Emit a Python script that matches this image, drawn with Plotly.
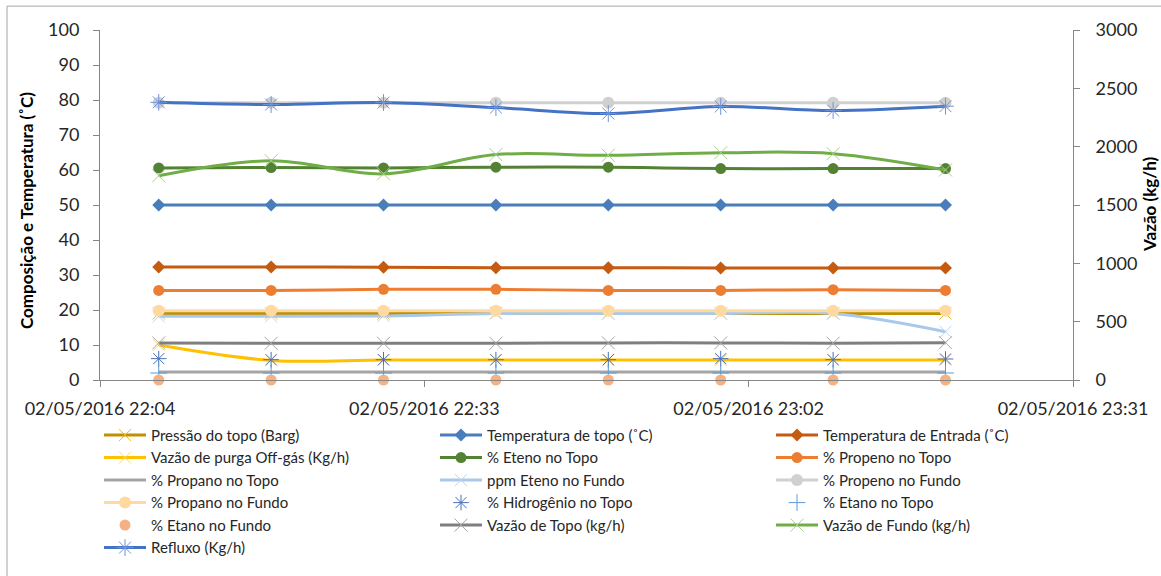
import plotly.graph_objects as go

# ---- data ----
times = ["2016-05-02 22:09:15", "2016-05-02 22:19:18", "2016-05-02 22:29:21",
         "2016-05-02 22:39:24", "2016-05-02 22:49:27", "2016-05-02 22:59:30",
         "2016-05-02 23:09:33", "2016-05-02 23:19:36"]
tick_times = ["2016-05-02 22:04", "2016-05-02 22:33", "2016-05-02 23:02", "2016-05-02 23:31"]
tick_labels = ["02/05/2016 22:04", "02/05/2016 22:33", "02/05/2016 23:02", "02/05/2016 23:31"]

pressao_topo = [19.0, 19.0, 19.0, 19.1, 19.0, 19.0, 19.0, 19.0]
temp_topo = [50.0, 50.0, 50.0, 50.0, 50.0, 50.0, 50.0, 50.0]
temp_entrada = [32.3, 32.3, 32.2, 32.1, 32.1, 32.0, 32.0, 32.0]
vazao_purga = [10.0, 5.6, 5.7, 5.7, 5.7, 5.7, 5.7, 5.7]
eteno_topo = [60.6, 60.7, 60.6, 60.8, 60.8, 60.4, 60.4, 60.4]
propeno_topo = [25.6, 25.6, 25.9, 25.9, 25.6, 25.6, 25.8, 25.6]
propano_topo = [2.3, 2.3, 2.3, 2.3, 2.3, 2.3, 2.3, 2.3]
ppm_eteno_fundo = [18.2, 18.2, 18.3, 19.0, 19.0, 19.0, 19.0, 13.8]
propeno_fundo = [79.2, 79.2, 79.2, 79.2, 79.2, 79.2, 79.2, 79.2]
propano_fundo = [19.8, 19.8, 19.8, 19.8, 19.8, 19.8, 19.8, 19.8]
hidrogenio_topo = [6.1, 5.8, 5.8, 5.8, 5.8, 6.1, 5.8, 6.0]
etano_topo = [2.0, 2.0, 2.0, 2.0, 2.0, 2.0, 2.0, 2.0]
etano_fundo = [0.0, 0.0, 0.0, 0.0, 0.0, 0.0, 0.0, 0.0]
vazao_topo = [318, 315, 315, 315, 318, 318, 315, 320]
vazao_fundo = [1750, 1880, 1767, 1932, 1926, 1948, 1940, 1800]
refluxo = [2380, 2361, 2378, 2335, 2284, 2344, 2310, 2347]

FONT = "Lato"
fig = go.Figure()


def line_trace(name, y, color, symbol=None, mcolor=None, msize=10, axis="y", mwidth=1):
    marker = dict(size=msize, color=mcolor or color)
    mode = "lines"
    if symbol:
        mode = "lines+markers"
        marker["symbol"] = symbol
        if symbol.endswith("open"):
            marker["line"] = dict(color=mcolor or color, width=mwidth)
    fig.add_trace(go.Scatter(x=times, y=y, name=name, mode=mode, yaxis=axis,
                             line=dict(color=color, width=3, shape="spline", smoothing=1),
                             marker=marker))


def marker_trace(name, y, color, symbol, msize=10, axis="y", clip=True):
    marker = dict(size=msize, color=color, symbol=symbol)
    if symbol.endswith("open"):
        marker["line"] = dict(color=color, width=1)
    fig.add_trace(go.Scatter(x=times, y=y, name=name, mode="markers", yaxis=axis,
                             marker=marker, cliponaxis=clip))


line_trace("Pressão do topo (Barg)", pressao_topo, "#BF9000", "x-thin-open", "#E8B830", 12)
line_trace("Temperatura de topo (˚C)", temp_topo, "#4A7EBB", "diamond", "#4A7EBB", 10)
line_trace("Temperatura de Entrada (˚C)", temp_entrada, "#C55A11", "diamond", "#C55A11", 10)
line_trace("Vazão de purga Off-gás (Kg/h)", vazao_purga, "#FFC000", "x-thin-open", "#FFD966", 12)
line_trace("% Eteno no Topo", eteno_topo, "#548235", "circle", "#548235", 11)
line_trace("% Propeno no Topo", propeno_topo, "#ED7D31", "circle", "#ED7D31", 11)
line_trace("% Propano no Topo", propano_topo, "#A5A5A5")
line_trace("ppm Eteno no Fundo", ppm_eteno_fundo, "#A9C8EA", "x-thin-open", "#BDD7EE", 12)
line_trace("% Propeno no Fundo", propeno_fundo, "#D0D0D0", "circle", "#D0D0D0", 12)
line_trace("% Propano no Fundo", propano_fundo, "#FFD9A0", "circle", "#FFD9A0", 12)
marker_trace("% Hidrogênio no Topo", hidrogenio_topo, "#4A6FB8", "asterisk-open", 13)
marker_trace("% Etano no Topo", etano_topo, "#5B9BD5", "cross-thin-open", 12)
marker_trace("% Etano no Fundo", etano_fundo, "#F4B183", "circle", 11, clip=False)
line_trace("Vazão de Topo (kg/h)", vazao_topo, "#7F7F7F", "x-thin-open", "#A6A6A6", 13, axis="y2")
line_trace("Vazão de Fundo (kg/h)", vazao_fundo, "#70AD47", "x-thin-open", "#A9D18E", 13, axis="y2")
line_trace("Refluxo (Kg/h)", refluxo, "#4472C4", "asterisk-open", "#6F93D8", 14, axis="y2")

axis_col = "#868686"
tick_font = dict(family=FONT, size=18, color="#262626")

fig.update_layout(
    width=1161, height=576,
    margin=dict(l=100, r=88, t=30, b=194),
    paper_bgcolor="white", plot_bgcolor="white",
    font=dict(family=FONT, color="#262626"),
    showlegend=True,
    xaxis=dict(type="date", range=[tick_times[0], tick_times[-1]],
               tickvals=tick_times, ticktext=tick_labels, tickfont=tick_font,
               showgrid=False, zeroline=False, showline=True, linecolor=axis_col, linewidth=1,
               ticks="outside", ticklen=6, tickcolor=axis_col, ticklabelstandoff=6),
    yaxis=dict(range=[0, 100], tickvals=list(range(0, 101, 10)), tickfont=tick_font,
               showgrid=False, zeroline=False, showline=True, linecolor=axis_col, linewidth=1,
               ticks="outside", ticklen=6, tickcolor=axis_col, ticklabelstandoff=10),
    yaxis2=dict(range=[0, 3000], tickvals=list(range(0, 3001, 500)), tickfont=tick_font,
                overlaying="y", side="right",
                showgrid=False, zeroline=False, showline=True, linecolor=axis_col, linewidth=1,
                ticks="outside", ticklen=6, tickcolor=axis_col, ticklabelstandoff=12),
    legend=dict(orientation="h", x=-0.001, xanchor="left", y=-0.111, yanchor="top",
                entrywidth=279, entrywidthmode="pixels", itemwidth=42,
                font=dict(family=FONT, size=15, color="#262626"),
                bgcolor="rgba(0,0,0,0)", traceorder="normal"),
    annotations=[
        dict(text="<b>Composição e Temperatura (˚C)</b>", textangle=-90, showarrow=False,
             xref="paper", yref="paper", x=(27 - 100) / 973, y=(382 - 212) / 352,
             xanchor="center", yanchor="middle", font=dict(family=FONT, size=17, color="#000")),
        dict(text="<b>Vazão (kg/h)</b>", textangle=-90, showarrow=False,
             xref="paper", yref="paper", x=(1149 - 100) / 973, y=(382 - 206) / 352,
             xanchor="center", yanchor="middle", font=dict(family=FONT, size=17, color="#000")),
    ],
    shapes=[dict(type="rect", xref="paper", yref="paper",
                 x0=(7 - 100) / 973, x1=(1175 - 100) / 973,
                 y0=(382 - 590) / 352, y1=(382 - 6) / 352,
                 line=dict(color="#A6A6A6", width=1), fillcolor="rgba(0,0,0,0)", layer="below")],
)

fig.write_html("out.html")
